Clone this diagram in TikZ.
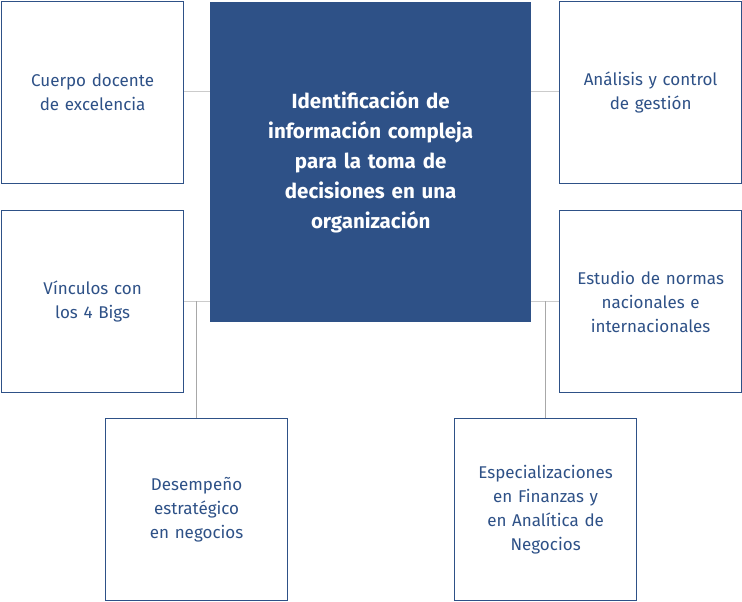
\documentclass[tikz,border=0pt]{standalone}
\usepackage{fontspec}
\setmainfont{Fira Sans}
\definecolor{navy}{HTML}{2E5187}
\definecolor{linkgray}{HTML}{A8A8A8}
\tikzset{
    side-box/.style = {draw=navy, line width=1.2pt, fill=white, rectangle, minimum width=182pt, minimum height=182pt, text width=165pt, align=center, text=navy, font=\fontsize{17}{24}\selectfont, anchor=north west},
    main-box/.style = {fill=navy, rectangle, minimum width=321pt, minimum height=320pt, text width=290pt, align=center, text=white, font=\bfseries\fontsize{20.5}{30}\selectfont, anchor=north west},
    link/.style = {draw=linkgray, line width=1pt},
}
\begin{document}
\begin{tikzpicture}[x=1pt,y=-1pt]
\useasboundingbox (0,0) rectangle (742,602);
\coordinate (lt) at (196,301);
\coordinate (rt) at (545,301);
\draw[link, draw=linkgray!60] (183,92) -- (210,92);
\draw[link, draw=linkgray!60] (531,92) -- (559,92);
\draw[link, draw=linkgray!60] (183,301) -- (210,301);
\draw[link, draw=linkgray!60] (531,301) -- (559,301);
\draw[link] (lt) -- (196,418);
\draw[link] (rt) -- (545,418);
\node[main-box] (main) at (210,2) {Identificación de\\información compleja\\para la toma de\\decisiones en una\\organización};
\node[side-box] (cuerpo) at (1,1) {Cuerpo docente\\de excelencia};
\node[side-box] (vinculos) at (1,210) {Vínculos con\\los 4 Bigs};
\node[side-box] (analisis) at (559,1) {Análisis y control\\de gestión};
\node[side-box] (normas) at (559,210) {Estudio de normas\\nacionales e\\internacionales};
\node[side-box] (desempeno) at (105,418) {Desempeño\\estratégico\\en negocios};
\node[side-box] (especial) at (454,418) {Especializaciones\\en Finanzas y\\en Analítica de\\Negocios};
\end{tikzpicture}
\end{document}
